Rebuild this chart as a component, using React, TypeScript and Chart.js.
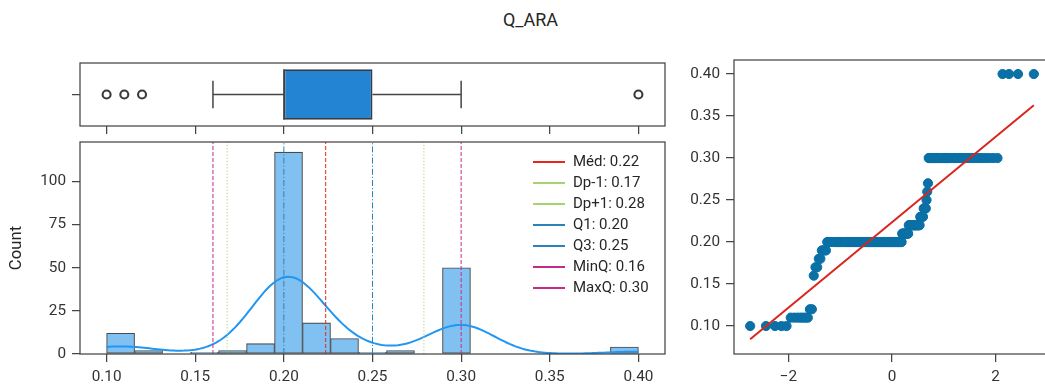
import React, { useEffect, useRef } from 'react';
import { Chart, registerables } from 'chart.js';

Chart.register(...registerables);
Chart.defaults.font.family = 'Roboto';

// ---------------- data ----------------
const TITLE = 'Q_ARA';
const SAMPLE_VALUES = [0.10, 0.11, 0.12, 0.16, 0.17, 0.18, 0.19, 0.20, 0.21, 0.22, 0.23, 0.24, 0.25, 0.26, 0.27, 0.30, 0.40];
const SAMPLE_COUNTS = [5, 7, 2, 1, 2, 2, 4, 106, 11, 18, 5, 4, 1, 1, 1, 50, 4];

const HIST_RANGE = [0.10, 0.40];
const HIST_BINS = 19;
const HIST_X_LIMITS = [0.085, 0.415];
const HIST_Y_LIMITS = [0, 122.9];
const X_TICKS = [0.10, 0.15, 0.20, 0.25, 0.30, 0.35, 0.40];
const COUNT_TICKS = [0, 25, 50, 75, 100];

const BOX_LOW_WHISKER = 0.16;
const BOX_Q1 = 0.20;
const BOX_MEDIAN = 0.20;
const BOX_Q3 = 0.25;
const BOX_HIGH_WHISKER = 0.30;
const BOX_OUTLIERS = [0.10, 0.11, 0.12, 0.40];

const STAT_LABELS = ['Méd: 0.22', 'Dp-1: 0.17', 'Dp+1: 0.28', 'Q1: 0.20', 'Q3: 0.25', 'MinQ: 0.16', 'MaxQ: 0.30'];
const STAT_VALUES = [0.2236, 0.168, 0.279, 0.20, 0.25, 0.16, 0.30];

const QQ_X_LIMITS = [-3.05, 3.05];
const QQ_Y_LIMITS = [0.0667, 0.4167];
const QQ_X_TICKS = [-2, 0, 2];
const QQ_Y_TICKS = [0.10, 0.15, 0.20, 0.25, 0.30, 0.35, 0.40];

// ---------------- styles ----------------
const SPINE = '#454545';
const TICK_TEXT = '#333333';
const TICK_FONT = 15.3;
const BAR_FILL = '#80c1f1';
const BAR_EDGE = '#4a4a4a';
const KDE_COLOR = '#2196f3';
const BOX_FILL = '#2284d2';
const QQ_POINT = '#0a70a6';
const QQ_LINE = '#d8261e';
const STAT_COLORS = ['#e8261f', '#a5d274', '#a5d274', '#2b83ba', '#2b83ba', '#c7288a', '#c7288a'];
const STAT_DASHES = [[4, 2], [1.2, 2], [1.2, 2], [6, 2, 1.2, 2], [6, 2, 1.2, 2], [4, 2], [4, 2]];
const BOX_HALF = 0.4;
const CAP_HALF = 0.22;

// ---------------- derived from the sample ----------------
function expandSample(): number[] {
  const out: number[] = [];
  SAMPLE_VALUES.forEach((v, i) => {
    for (let k = 0; k < SAMPLE_COUNTS[i]; k++) out.push(v);
  });
  return out.sort((a, b) => a - b);
}

function normPpf(p: number): number {
  const a = [-3.969683028665376e1, 2.209460984245205e2, -2.759285104469687e2, 1.38357751867269e2, -3.066479806614716e1, 2.506628277459239];
  const b = [-5.447609879822406e1, 1.615858368580409e2, -1.556989798598866e2, 6.680131188771972e1, -1.328068155288572e1];
  const c = [-7.784894002430293e-3, -3.223964580411365e-1, -2.400758277161838, -2.549732539343734, 4.374664141464968, 2.938163982698783];
  const d = [7.784695709041462e-3, 3.224671290700398e-1, 2.445134137142996, 3.754408661907416];
  const pl = 0.02425;
  if (p < pl) {
    const q = Math.sqrt(-2 * Math.log(p));
    return (((((c[0] * q + c[1]) * q + c[2]) * q + c[3]) * q + c[4]) * q + c[5]) / ((((d[0] * q + d[1]) * q + d[2]) * q + d[3]) * q + 1);
  }
  if (p <= 1 - pl) {
    const q = p - 0.5;
    const r = q * q;
    return ((((((a[0] * r + a[1]) * r + a[2]) * r + a[3]) * r + a[4]) * r + a[5]) * q) / (((((b[0] * r + b[1]) * r + b[2]) * r + b[3]) * r + b[4]) * r + 1);
  }
  const q = Math.sqrt(-2 * Math.log(1 - p));
  return -(((((c[0] * q + c[1]) * q + c[2]) * q + c[3]) * q + c[4]) * q + c[5]) / ((((d[0] * q + d[1]) * q + d[2]) * q + d[3]) * q + 1);
}

function buildHistogram() {
  const w = (HIST_RANGE[1] - HIST_RANGE[0]) / HIST_BINS;
  const counts = new Array(HIST_BINS).fill(0);
  SAMPLE_VALUES.forEach((v, i) => {
    const idx = Math.min(HIST_BINS - 1, Math.max(0, Math.floor((v - HIST_RANGE[0]) / w + 1e-9)));
    counts[idx] += SAMPLE_COUNTS[i];
  });
  return counts.map((c, i) => ({ x: HIST_RANGE[0] + (i + 0.5) * w, y: c }));
}

function buildKde() {
  const sample = expandSample();
  const n = sample.length;
  const mean = sample.reduce((s, v) => s + v, 0) / n;
  const variance = sample.reduce((s, v) => s + (v - mean) * (v - mean), 0) / (n - 1);
  const bw = Math.sqrt(variance) * Math.pow(n, -0.2);
  const binWidth = (HIST_RANGE[1] - HIST_RANGE[0]) / HIST_BINS;
  const lo = sample[0];
  const hi = sample[n - 1];
  const pts: { x: number; y: number }[] = [];
  const G = 200;
  for (let g = 0; g < G; g++) {
    const x = lo + ((hi - lo) * g) / (G - 1);
    let dens = 0;
    SAMPLE_VALUES.forEach((v, i) => {
      const z = (x - v) / bw;
      dens += (SAMPLE_COUNTS[i] * Math.exp(-0.5 * z * z)) / (Math.sqrt(2 * Math.PI) * bw);
    });
    pts.push({ x, y: dens * binWidth });
  }
  return pts;
}

function buildQQ() {
  const sample = expandSample();
  const n = sample.length;
  const m = new Array(n);
  m[n - 1] = Math.pow(0.5, 1 / n);
  m[0] = 1 - m[n - 1];
  for (let i = 1; i < n - 1; i++) m[i] = (i + 1 - 0.3175) / (n + 0.365);
  const osm = m.map(normPpf);
  const mx = osm.reduce((s: number, v: number) => s + v, 0) / n;
  const my = sample.reduce((s, v) => s + v, 0) / n;
  let sxy = 0;
  let sxx = 0;
  for (let i = 0; i < n; i++) {
    sxy += (osm[i] - mx) * (sample[i] - my);
    sxx += (osm[i] - mx) * (osm[i] - mx);
  }
  const slope = sxy / sxx;
  const intercept = my - slope * mx;
  const points = osm.map((q: number, i: number) => ({ x: q, y: sample[i] }));
  const line = [
    { x: osm[0], y: intercept + slope * osm[0] },
    { x: osm[n - 1], y: intercept + slope * osm[n - 1] },
  ];
  return { points, line };
}

// ---------------- helpers ----------------
const framePlugin = {
  id: 'frame',
  afterDatasetsDraw(chart: any) {
    const { ctx, chartArea: a } = chart;
    ctx.save();
    ctx.strokeStyle = SPINE;
    ctx.lineWidth = 1.25;
    ctx.strokeRect(a.left, a.top, a.right - a.left, a.bottom - a.top);
    ctx.restore();
  },
};

function axis(o: {
  min: number; max: number; ticks: number[]; fmt: (v: number) => string;
  size: number; horizontal: boolean; labels: boolean; position: string; title?: any;
}) {
  return {
    type: 'linear',
    position: o.position,
    min: o.min,
    max: o.max,
    offset: false,
    grid: { display: true, drawOnChartArea: false, drawTicks: true, tickLength: 8, color: SPINE, lineWidth: 1.25, offset: false },
    border: { display: false },
    title: o.title || { display: false },
    ticks: {
      display: o.labels,
      color: TICK_TEXT,
      font: { size: TICK_FONT },
      padding: 6,
      autoSkip: false,
      maxRotation: 0,
      minRotation: 0,
      callback: (v: any) => o.fmt(Number(v)),
    },
    afterBuildTicks: (s: any) => {
      s.ticks = o.ticks.map((v) => ({ value: v }));
    },
    afterFit: (s: any) => {
      if (o.horizontal) s.height = o.size;
      else s.width = o.size;
      s.paddingTop = 0;
      s.paddingBottom = 0;
      s.paddingLeft = 0;
      s.paddingRight = 0;
    },
  };
}

const fmt2 = (v: number) => v.toFixed(2);
const fmtInt = (v: number) => String(Math.round(v));
const fmtMinus = (v: number) => (v < 0 ? '\u2212' + Math.abs(v) : String(v));

const commonOptions = {
  responsive: false,
  animation: false,
  devicePixelRatio: 1,
  events: [],
};

function boxConfig(): any {
  const lineDs = (pts: { x: number; y: number }[]) => ({
    type: 'line', data: pts, borderColor: SPINE, borderWidth: 1.5, pointRadius: 0, order: 1,
  });
  return {
    type: 'scatter',
    data: {
      datasets: [
        lineDs([{ x: BOX_LOW_WHISKER, y: 0 }, { x: BOX_Q1, y: 0 }]),
        lineDs([{ x: BOX_Q3, y: 0 }, { x: BOX_HIGH_WHISKER, y: 0 }]),
        lineDs([{ x: BOX_LOW_WHISKER, y: -CAP_HALF }, { x: BOX_LOW_WHISKER, y: CAP_HALF }]),
        lineDs([{ x: BOX_HIGH_WHISKER, y: -CAP_HALF }, { x: BOX_HIGH_WHISKER, y: CAP_HALF }]),
        lineDs([{ x: BOX_MEDIAN, y: -BOX_HALF }, { x: BOX_MEDIAN, y: BOX_HALF }]),
        {
          type: 'scatter',
          data: BOX_OUTLIERS.map((v) => ({ x: v, y: 0 })),
          pointRadius: 4,
          pointBackgroundColor: '#ffffff',
          pointBorderColor: '#3a3a3a',
          pointBorderWidth: 2.1,
          order: 0,
        },
        {
          type: 'bar',
          indexAxis: 'y',
          data: [{ x: [BOX_Q1, BOX_Q3], y: 0 }],
          backgroundColor: BOX_FILL,
          borderColor: '#3d3d3d',
          borderWidth: 1.6,
          borderSkipped: false,
          categoryPercentage: BOX_HALF * 2,
          barPercentage: 1,
          order: 5,
        },
      ],
    },
    options: {
      ...commonOptions,
      layout: { padding: { left: 0, right: 15, top: 13, bottom: 0 } },
      plugins: { legend: { display: false }, tooltip: { enabled: false } },
      scales: {
        x: axis({ min: HIST_X_LIMITS[0], max: HIST_X_LIMITS[1], ticks: X_TICKS, fmt: fmt2, size: 14, horizontal: true, labels: false, position: 'bottom' }),
        y: axis({ min: -0.5, max: 0.5, ticks: [0], fmt: () => '', size: 80, horizontal: false, labels: false, position: 'left' }),
      },
    },
    plugins: [framePlugin],
  };
}

function histConfig(): any {
  return {
    type: 'bar',
    data: {
      datasets: [
        {
          type: 'bar',
          data: buildHistogram(),
          backgroundColor: BAR_FILL,
          borderColor: BAR_EDGE,
          borderWidth: 1.1,
          borderSkipped: false,
          barPercentage: 1,
          categoryPercentage: 1,
          order: 5,
        },
        {
          type: 'line',
          data: buildKde(),
          borderColor: KDE_COLOR,
          borderWidth: 2,
          pointRadius: 0,
          tension: 0,
          order: 2,
        },
        ...STAT_VALUES.map((v, i) => ({
          type: 'line',
          data: [{ x: v, y: HIST_Y_LIMITS[0] }, { x: v, y: HIST_Y_LIMITS[1] }],
          borderColor: STAT_COLORS[i],
          borderWidth: 1,
          borderDash: STAT_DASHES[i],
          pointRadius: 0,
          order: 1,
        })),
      ],
    },
    options: {
      ...commonOptions,
      layout: { padding: { left: 0, right: 15, top: 12, bottom: 0 } },
      plugins: { legend: { display: false }, tooltip: { enabled: false } },
      scales: {
        x: axis({ min: HIST_X_LIMITS[0], max: HIST_X_LIMITS[1], ticks: X_TICKS, fmt: fmt2, size: 34, horizontal: true, labels: true, position: 'bottom' }),
        y: axis({
          min: HIST_Y_LIMITS[0], max: HIST_Y_LIMITS[1], ticks: COUNT_TICKS, fmt: fmtInt, size: 80, horizontal: false, labels: true, position: 'left',
          title: { display: true, text: 'Count', color: '#262626', font: { size: 16.7 }, padding: { top: 7, bottom: 0 } },
        }),
      },
    },
    plugins: [framePlugin],
  };
}

function qqConfig(): any {
  const qq = buildQQ();
  return {
    type: 'scatter',
    data: {
      datasets: [
        {
          type: 'scatter',
          data: qq.points,
          pointRadius: 4.6,
          pointBackgroundColor: QQ_POINT,
          pointBorderColor: QQ_POINT,
          pointBorderWidth: 1,
          order: 2,
        },
        {
          type: 'line',
          data: qq.line,
          borderColor: QQ_LINE,
          borderWidth: 2,
          pointRadius: 0,
          order: 1,
        },
      ],
    },
    options: {
      ...commonOptions,
      layout: { padding: { left: 0, right: 10, top: 10, bottom: 0 } },
      plugins: { legend: { display: false }, tooltip: { enabled: false } },
      scales: {
        x: axis({ min: QQ_X_LIMITS[0], max: QQ_X_LIMITS[1], ticks: QQ_X_TICKS, fmt: fmtMinus, size: 34, horizontal: true, labels: true, position: 'bottom' }),
        y: axis({ min: QQ_Y_LIMITS[0], max: QQ_Y_LIMITS[1], ticks: QQ_Y_TICKS, fmt: fmt2, size: 54, horizontal: false, labels: true, position: 'left' }),
      },
    },
    plugins: [framePlugin],
  };
}

export default function App() {
  const boxRef = useRef<HTMLCanvasElement>(null);
  const histRef = useRef<HTMLCanvasElement>(null);
  const qqRef = useRef<HTMLCanvasElement>(null);

  useEffect(() => {
    const charts = [
      new Chart(boxRef.current as HTMLCanvasElement, boxConfig()),
      new Chart(histRef.current as HTMLCanvasElement, histConfig()),
      new Chart(qqRef.current as HTMLCanvasElement, qqConfig()),
    ];
    return () => charts.forEach((c) => c.destroy());
  }, []);

  return (
    <div style={{ position: 'fixed', left: 0, top: 0, width: 1045, height: 388, overflow: 'hidden', background: '#ffffff' }}>
      <div style={{ position: 'absolute', left: 0, top: 9, width: 1061, textAlign: 'center', fontFamily: 'Roboto', fontSize: 18, lineHeight: '22px', color: '#262626' }}>
        {TITLE}
      </div>
      <canvas ref={boxRef} width={680} height={90} style={{ position: 'absolute', left: 0, top: 50 }} />
      <canvas ref={histRef} width={680} height={258} style={{ position: 'absolute', left: 0, top: 130 }} />
      <canvas ref={qqRef} width={380} height={338} style={{ position: 'absolute', left: 680, top: 50 }} />
      <div style={{ position: 'absolute', left: 533, top: 151, fontFamily: 'Roboto', fontSize: 15, color: '#262626' }}>
        {STAT_LABELS.map((label, i) => (
          <div key={label} style={{ display: 'flex', alignItems: 'center', height: 21, whiteSpace: 'nowrap' }}>
            <div style={{ width: 32, height: 2, background: STAT_COLORS[i], marginRight: 8 }} />
            <span style={{ lineHeight: '21px' }}>{label}</span>
          </div>
        ))}
      </div>
    </div>
  );
}
